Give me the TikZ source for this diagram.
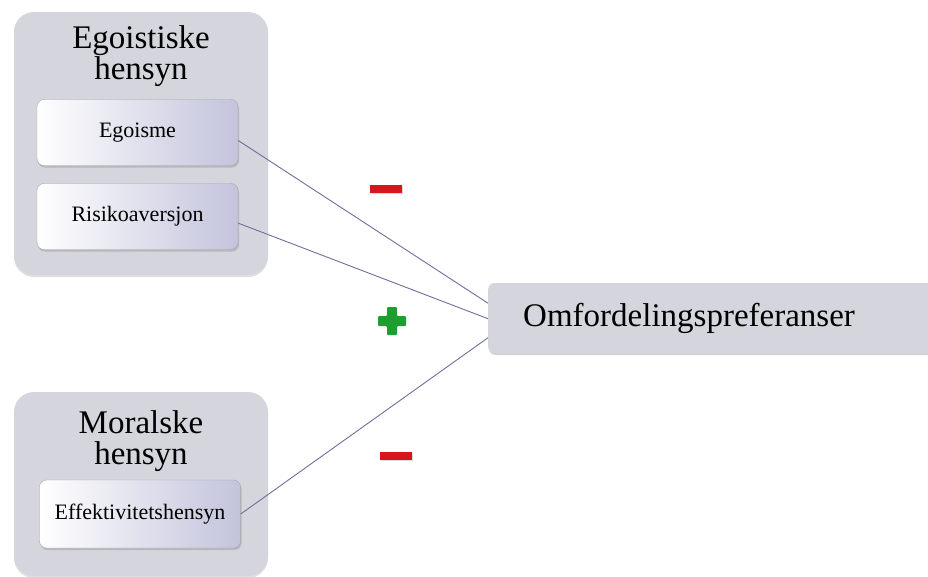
\documentclass[tikz,border=0pt]{standalone}
\usepackage{fontspec}
\setmainfont{Liberation Serif}
\usetikzlibrary{shapes,positioning,calc,shadows}

\definecolor{groupgray}{HTML}{D5D6DD}
\definecolor{lavbox}{HTML}{C3C3DC}
\definecolor{linkblue}{HTML}{6E6E9E}
\definecolor{minusred}{HTML}{D8141E}
\definecolor{plusgreen}{HTML}{1E9E2E}

\tikzset{
  groupbox/.style={rectangle,rounded corners=20pt,fill=groupgray,inner sep=0pt,
    drop shadow={shadow xshift=0pt,shadow yshift=-2pt,opacity=0.25}},
  factor/.style={rectangle,rounded corners=7pt,draw=gray!70,thin,left color=white,right color=lavbox,
    minimum width=201pt,minimum height=66pt,inner sep=0pt,font=\fontsize{22}{25}\selectfont,
    drop shadow={shadow xshift=1pt,shadow yshift=-2pt,opacity=0.35}},
  grouptitle/.style={align=center,inner sep=0pt,font=\fontsize{33}{31}\selectfont},
  link/.style={draw=linkblue,line width=0.9pt},
  minussign/.style={rectangle,fill=minusred,minimum width=32pt,minimum height=8pt,inner sep=0pt,
    drop shadow={shadow xshift=1pt,shadow yshift=-1pt,opacity=0.3}}
}

\begin{document}
\begin{tikzpicture}[x=1pt,y=-1pt]
    \useasboundingbox (0,0) rectangle (928,576);

    % Groups
    \node[groupbox,minimum width=254pt,minimum height=263pt] (egogroup) at (141,143.5) {};
    \node[groupbox,minimum width=254pt,minimum height=184pt] (moralgroup) at (141,484) {};
    \node[grouptitle] (egotitle) at (141,56) {Egoistiske\\hensyn};
    \node[grouptitle] (moraltitle) at (141,441) {Moralske\\hensyn};

    % Factors
    \node[factor] (egoisme) at (137.5,132.5) {Egoisme};
    \node[factor] (risiko) at (137.5,216.5) {Risikoaversjon};
    \node[factor,minimum height=68pt] (effekt) at (140,514) {Effektivitetshensyn};

    % Outcome
    \node[rectangle,rounded corners=6pt,fill=groupgray,anchor=west,minimum height=70pt,
      text width=390pt,inner xsep=35pt,inner ysep=0pt,align=left,font=\fontsize{33}{36}\selectfont,
      drop shadow={shadow xshift=1pt,shadow yshift=-2pt,opacity=0.35}]
      (omf) at (488,318) {Omfordelingspreferanser};

    % Lines
    \draw[link] ($(egoisme.north east)!0.62!(egoisme.south east)$) -- ($(omf.north west)!0.29!(omf.south west)$);
    \draw[link] ($(risiko.north east)!0.6!(risiko.south east)$) -- ($(omf.north west)!0.51!(omf.south west)$);
    \draw[link] (effekt.east) -- ($(omf.north west)!0.78!(omf.south west)$);

    % Signs
    \node[minussign] (minusego) at (386,189) {};
    \node[minussign] (minusmoral) at (396,456) {};
    \fill[plusgreen,rounded corners=1pt] (387,307) -- (397,307) -- (397,316) -- (406,316) -- (406,326)
      -- (397,326) -- (397,335) -- (387,335) -- (387,326) -- (378,326) -- (378,316) -- (387,316) -- cycle;
\end{tikzpicture}
\end{document}
